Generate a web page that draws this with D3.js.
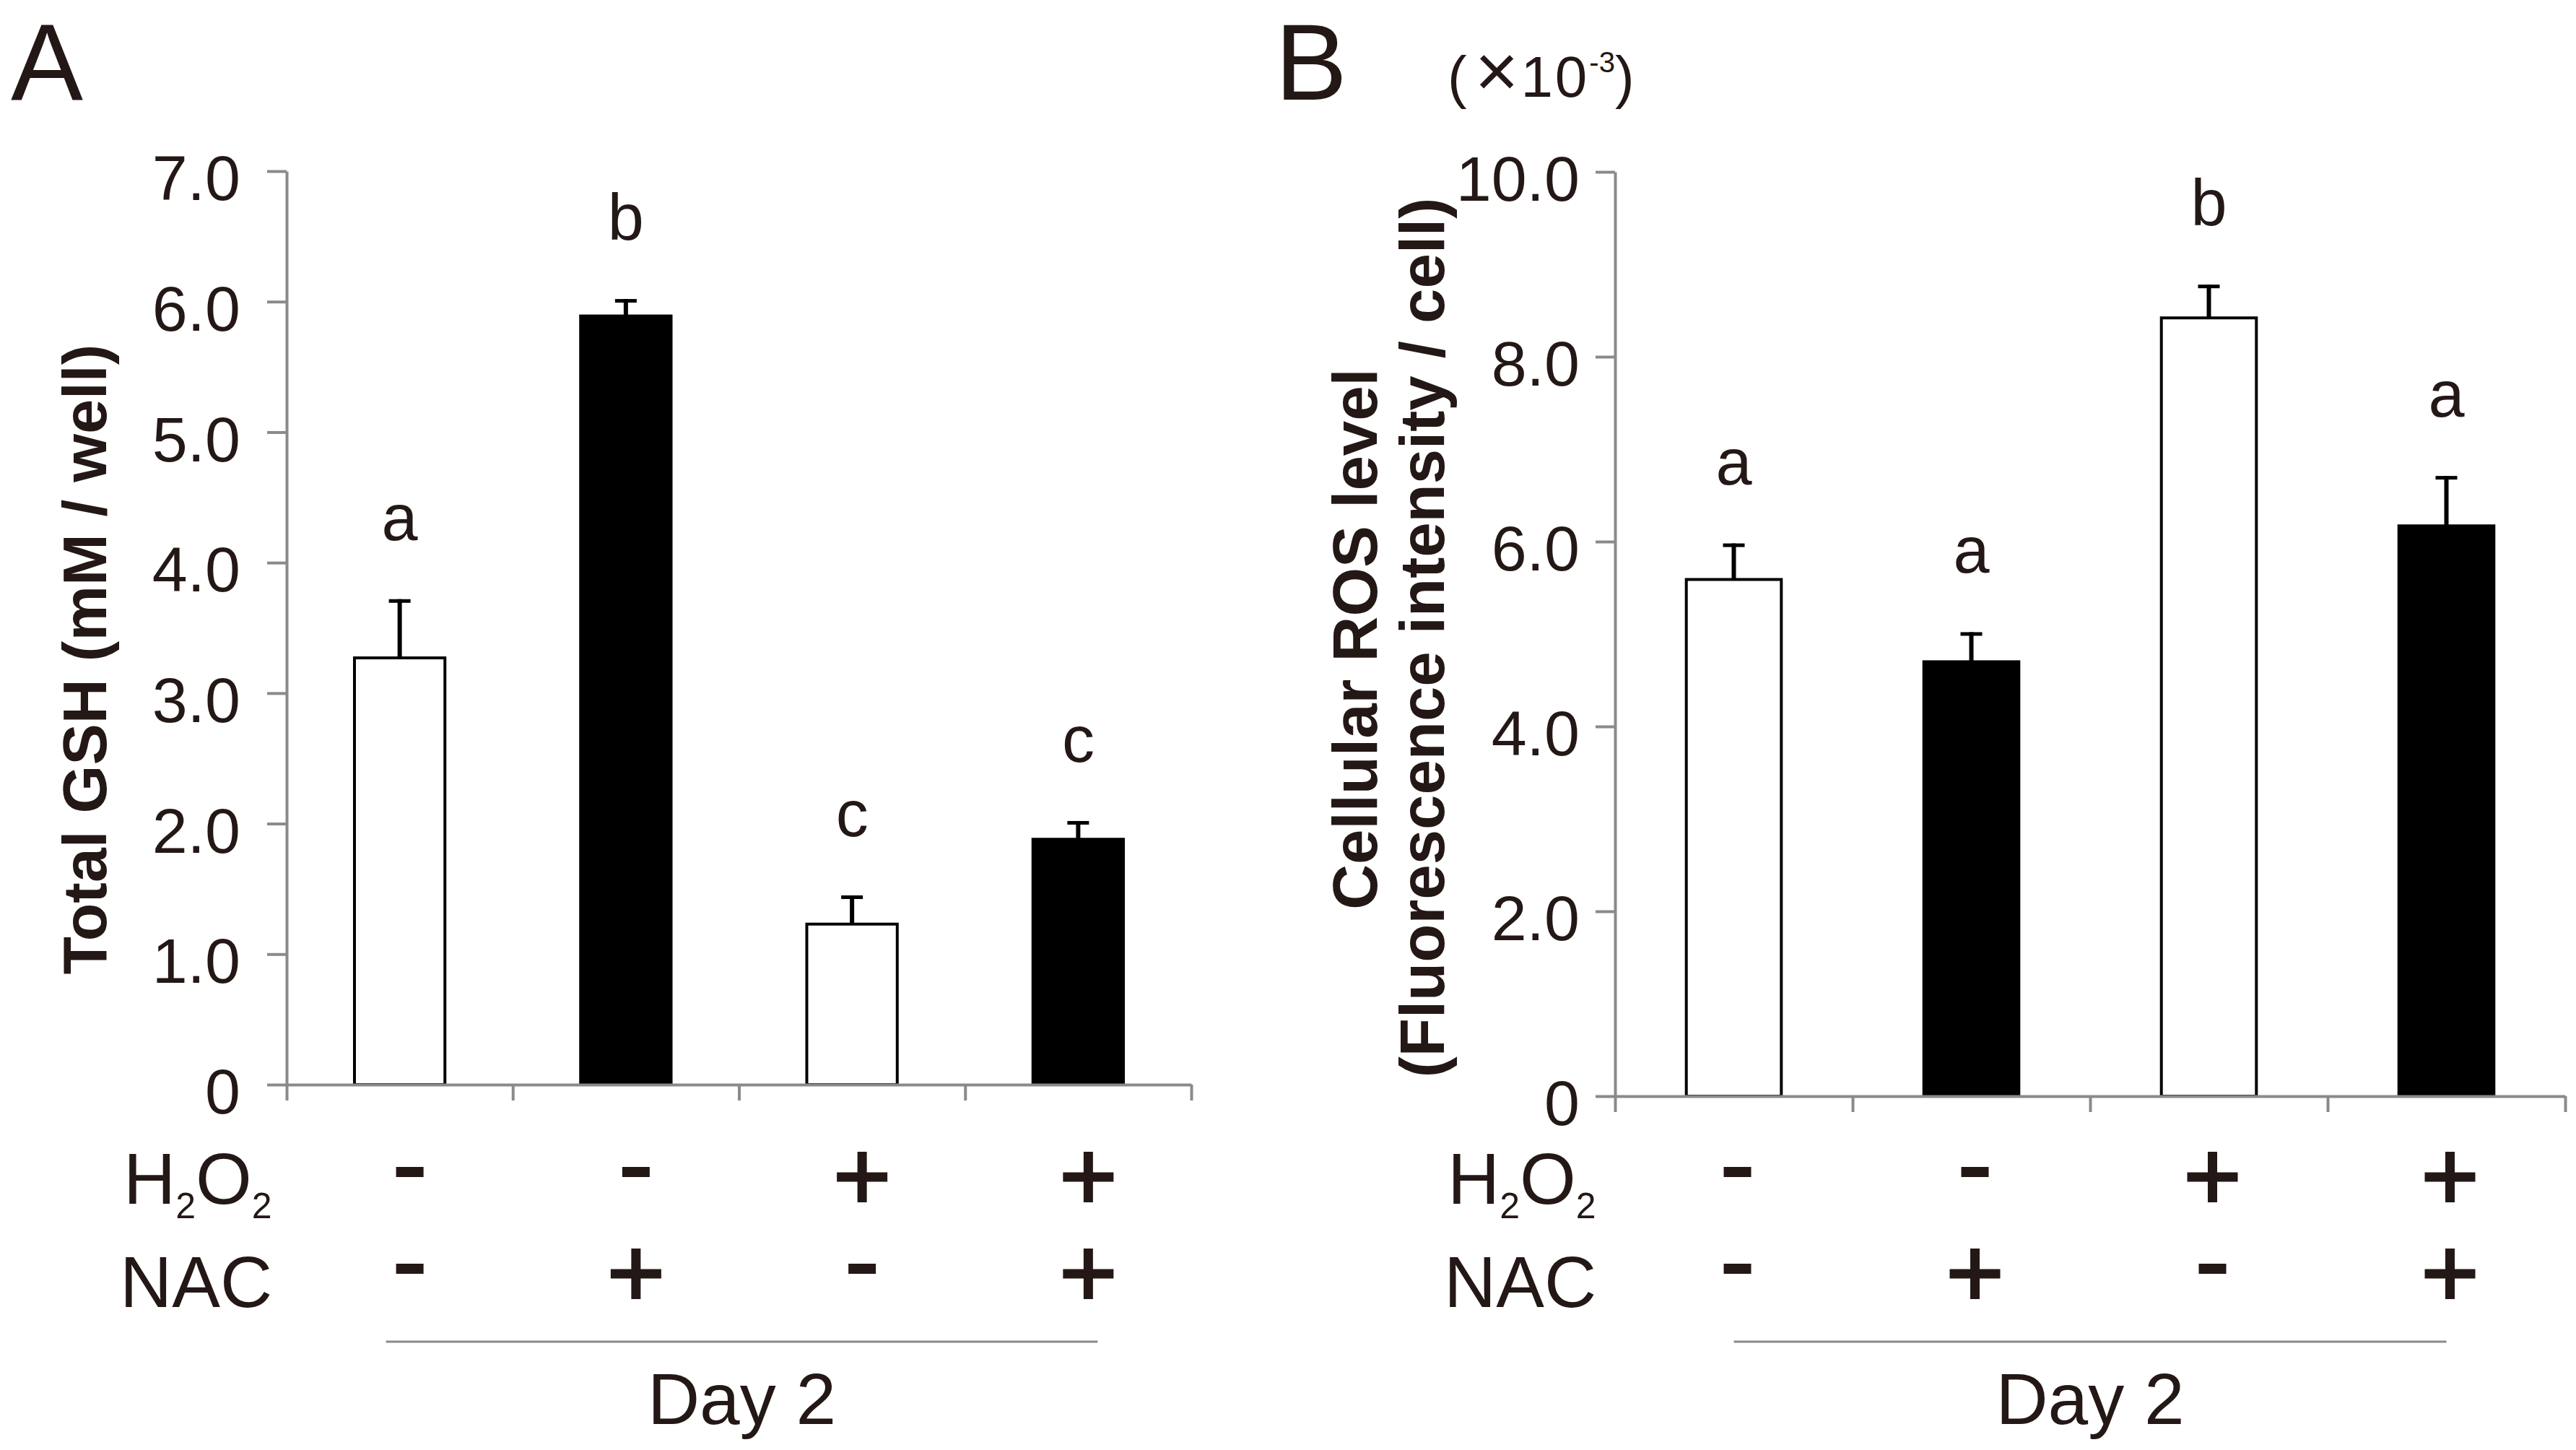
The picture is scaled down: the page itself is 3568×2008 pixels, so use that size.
<!DOCTYPE html>
<html>
<head>
<meta charset="utf-8">
<script src="https://cdn.jsdelivr.net/npm/d3@7"></script>
<style>
  html, body { margin: 0; padding: 0; background: #fff; }
  svg { display: block; }
  text { font-family: "Liberation Sans", Arial, sans-serif; fill: #231815; }
</style>
</head>
<body>
<div id="chart"></div>
<script>
// treatments for the 4 groups (Day 2)
const categories = ["ctrl", "NAC", "H2O2", "H2O2+NAC"];
const h2o2 = ["-", "-", "+", "+"];
const nac = ["-", "+", "-", "+"];

// panel A: total GSH (mM / well)
const gshMean = [3.27, 5.89, 1.23, 1.88];
const gshErr = [0.45, 0.13, 0.22, 0.14];
const gshLetters = ["a", "b", "c", "c"];
const gshTicks = [0, 1, 2, 3, 4, 5, 6, 7];

// panel B: cellular ROS level (x10^-3)
const rosMean = [5.59, 4.70, 8.42, 6.17];
const rosErr = [0.39, 0.32, 0.36, 0.54];
const rosLetters = ["a", "a", "b", "a"];
const rosTicks = [0, 2, 4, 6, 8, 10];

const W = 3568, H = 2008;
const axisColor = "#8a8a8a";
const ink = "#231815";

const svg = d3.select("#chart")
  .append("svg")
  .attr("width", W)
  .attr("height", H);

function drawPanel(cfg) {
  const g = svg.append("g");

  const x = d3.scaleBand()
    .domain(categories)
    .range([cfg.x0, cfg.x1])
    .paddingInner(0.6)
    .paddingOuter(0.3);

  const y = d3.scaleLinear()
    .domain([0, cfg.yMax])
    .range([cfg.yZero, cfg.yTop]);

  const cx = d => x(d) + x.bandwidth() / 2;

  // bars
  g.selectAll("rect.bar")
    .data(categories)
    .join("rect")
    .attr("class", "bar")
    .attr("x", d => x(d))
    .attr("y", (d, i) => y(cfg.mean[i]))
    .attr("width", x.bandwidth())
    .attr("height", (d, i) => y(0) - y(cfg.mean[i]))
    .attr("fill", (d, i) => nac[i] === "+" ? "#000" : "#fff")
    .attr("stroke", "#000")
    .attr("stroke-width", 4);

  // error bars (upper only)
  g.selectAll("line.err")
    .data(categories)
    .join("line")
    .attr("class", "err")
    .attr("x1", cx).attr("x2", cx)
    .attr("y1", (d, i) => y(cfg.mean[i]))
    .attr("y2", (d, i) => y(cfg.mean[i] + cfg.err[i]))
    .attr("stroke", "#000")
    .attr("stroke-width", 6);

  g.selectAll("line.cap")
    .data(categories)
    .join("line")
    .attr("class", "cap")
    .attr("x1", d => cx(d) - 15).attr("x2", d => cx(d) + 15)
    .attr("y1", (d, i) => y(cfg.mean[i] + cfg.err[i]) + 2.5)
    .attr("y2", (d, i) => y(cfg.mean[i] + cfg.err[i]) + 2.5)
    .attr("stroke", "#000")
    .attr("stroke-width", 5);

  // significance letters
  g.selectAll("text.sig")
    .data(categories)
    .join("text")
    .attr("class", "sig")
    .attr("x", cx)
    .attr("y", (d, i) => y(cfg.mean[i] + cfg.err[i]) - 82)
    .attr("text-anchor", "middle")
    .attr("font-size", 90)
    .text((d, i) => cfg.letters[i]);

  // y axis
  const yAxis = g.append("g")
    .attr("transform", `translate(${cfg.x0},0)`)
    .call(d3.axisLeft(y)
      .tickValues(cfg.ticks)
      .tickSize(27)
      .tickSizeOuter(0)
      .tickPadding(cfg.tickPad)
      .tickFormat(d => d === 0 ? "0" : d3.format(".1f")(d)));

  // x axis: ticks at group boundaries
  const xb = d3.scaleLinear().domain([0, categories.length]).range([cfg.x0, cfg.x1]);
  const xAxis = g.append("g")
    .attr("transform", `translate(0,${cfg.yZero})`)
    .call(d3.axisBottom(xb)
      .tickValues(d3.range(categories.length + 1))
      .tickSize(22)
      .tickSizeOuter(0)
      .tickFormat(""));

  [yAxis, xAxis].forEach(a => {
    a.select(".domain").attr("stroke", axisColor).attr("stroke-width", 4);
    a.selectAll(".tick line").attr("stroke", axisColor).attr("stroke-width", 4);
  });
  yAxis.selectAll(".tick text")
    .attr("font-size", 88)
    .attr("font-family", "Liberation Sans, Arial, sans-serif")
    .attr("fill", ink)
    .attr("dy", "0.45em");

  // treatment rows
  const rows = [
    { vals: h2o2, y: 1630 },
    { vals: nac, y: 1764 }
  ];
  rows.forEach(r => {
    g.selectAll(null)
      .data(categories)
      .join("path")
      .attr("fill", ink)
      .attr("d", (d, i) => {
        const sx = cx(d) + cfg.symOff;
        const p = d3.path();
        if (r.vals[i] === "+") {
          p.rect(sx - 35, r.y - 6.5, 70, 13);
          p.rect(sx - 6.5, r.y - 35, 13, 70);
        } else {
          p.rect(sx - 19, r.y - 14, 38, 14);
        }
        return p.toString();
      });
  });

  const h = g.append("text")
    .attr("x", cfg.rowLabelX)
    .attr("y", 1667)
    .attr("font-size", 100);
  h.append("tspan").text("H");
  h.append("tspan").attr("font-size", 50).attr("dy", 20).text("2");
  h.append("tspan").attr("dy", -20).text("O");
  h.append("tspan").attr("font-size", 50).attr("dy", 20).text("2");

  g.append("text")
    .attr("x", cfg.rowLabelX - 5)
    .attr("y", 1810)
    .attr("font-size", 100)
    .text("NAC");

  // Day 2 bracket line
  const lx0 = cx(categories[0]) + cfg.lineOff[0];
  const lx1 = cx(categories[categories.length - 1]) + cfg.lineOff[1];
  g.append("line")
    .attr("x1", lx0).attr("x2", lx1)
    .attr("y1", 1858).attr("y2", 1858)
    .attr("stroke", axisColor)
    .attr("stroke-width", 3);

  g.append("text")
    .attr("x", (lx0 + lx1) / 2)
    .attr("y", 1972)
    .attr("text-anchor", "middle")
    .attr("font-size", 100)
    .text("Day 2");

  // panel letter
  g.append("text")
    .attr("x", cfg.panelX)
    .attr("y", 138)
    .attr("font-size", 150)
    .text(cfg.panel);

  return g;
}

const gA = drawPanel({
  panel: "A", panelX: 15,
  mean: gshMean, err: gshErr, letters: gshLetters, ticks: gshTicks,
  yMax: 7, yZero: 1502, yTop: 237,
  x0: 397, x1: 1650, tickPad: 37,
  symOff: 14, rowLabelX: 171, lineOff: [-19, 27]
});

const gB = drawPanel({
  panel: "B", panelX: 1766,
  mean: rosMean, err: rosErr, letters: rosLetters, ticks: rosTicks,
  yMax: 10, yZero: 1518, yTop: 238,
  x0: 2237, x1: 3553, tickPad: 22,
  symOff: 5, rowLabelX: 2005, lineOff: [0, 0]
});

// y axis titles
gA.append("text")
  .attr("transform", "translate(147,913) rotate(-90)")
  .attr("text-anchor", "middle")
  .attr("font-size", 86)
  .attr("font-weight", "bold")
  .text("Total GSH (mM / well)");

gB.append("text")
  .attr("transform", "translate(1907,885) rotate(-90)")
  .attr("text-anchor", "middle")
  .attr("font-size", 87)
  .attr("font-weight", "bold")
  .text("Cellular ROS level");

gB.append("text")
  .attr("transform", "translate(2000,883) rotate(-90)")
  .attr("text-anchor", "middle")
  .attr("font-size", 87)
  .attr("font-weight", "bold")
  .text("(Fluorescence intensity / cell)");

// scale factor note
const unit = gB.append("text")
  .attr("x", 2005)
  .attr("y", 134)
  .attr("font-size", 80)
  .attr("letter-spacing", 3);
unit.append("tspan").text("(");
unit.append("tspan").attr("font-size", 104).attr("dx", 8).text("×");
unit.append("tspan").text("10");
unit.append("tspan").attr("font-size", 40).attr("dy", -34).attr("letter-spacing", 0).text("-3");
unit.append("tspan").attr("dy", 34).text(")");
</script>
</body>
</html>
